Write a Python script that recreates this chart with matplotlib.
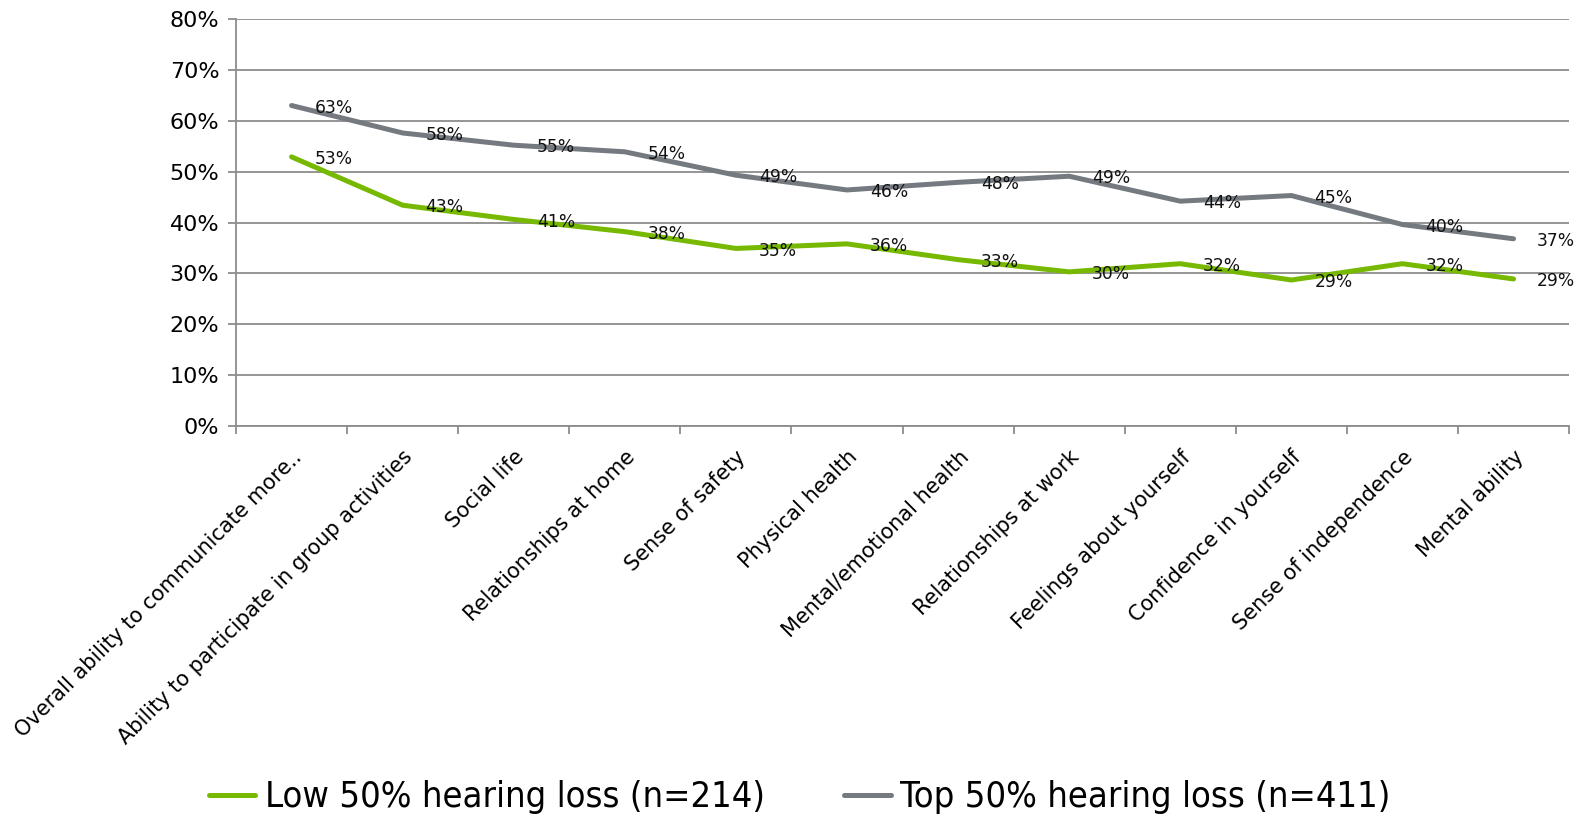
import numpy as np
import matplotlib
matplotlib.use("Agg")
import matplotlib.pyplot as plt
from matplotlib.ticker import FixedLocator, PercentFormatter

categories = ["Overall ability to communicate more..",
              "Ability to participate in group activities",
              "Social life", "Relationships at home", "Sense of safety",
              "Physical health", "Mental/emotional health",
              "Relationships at work", "Feelings about yourself",
              "Confidence in yourself", "Sense of independence",
              "Mental ability"]
low = [52.9, 43.4, 40.6, 38.2, 34.9, 35.8, 32.7, 30.3, 31.9, 28.7, 31.9, 28.9]
top = [63.0, 57.6, 55.2, 53.9, 49.3, 46.4, 47.9, 49.1, 44.2, 45.3, 39.6, 36.8]
low_name = "Low 50% hearing loss (n=214)"
top_name = "Top 50% hearing loss (n=411)"

green = "#76b900"
grey = "#747a80"
axcol = "#8c8c8c"

plt.rcParams['font.family'] = ['DejaVu Sans']

fig = plt.figure(figsize=(15.83, 8.17), dpi=100)
ax = fig.add_axes([0.1491, 0.4786, 0.9912 - 0.1491, 0.9767 - 0.4786])

x = np.arange(len(categories))
ax.plot(x, low, color=green, lw=3.6, solid_capstyle='round', label=low_name, zorder=3)
ax.plot(x, top, color=grey, lw=3.6, solid_capstyle='round', label=top_name, zorder=3)

# data labels to the right of each point
for series in (low, top):
    for xi, v in zip(x, series):
        ax.annotate("%.0f%%" % v, (xi, v), xytext=(16.5, -1.5), textcoords='offset points',
                    ha='left', va='center', fontsize=12.3, color='#111111', zorder=4)

ax.set_xlim(-0.5, len(categories) - 0.5)
ax.set_ylim(0, 80)
ax.set_yticks(np.arange(0, 81, 10))
ax.yaxis.set_major_formatter(PercentFormatter(decimals=0))
ax.grid(axis='y', color=axcol, lw=1.3)
ax.set_axisbelow(True)

ax.set_xticks(x)
ax.set_xticklabels(categories, rotation=45, ha='right', va='top',
                   rotation_mode='anchor', fontsize=15.0)
ax.xaxis.set_minor_locator(FixedLocator(np.arange(-0.5, len(categories), 1.0)))
ax.tick_params(axis='x', which='major', length=0, pad=15)
ax.tick_params(axis='x', which='minor', length=6, color=axcol, width=1.3)
ax.tick_params(axis='y', length=6, color=axcol, width=1.3, labelsize=16, pad=6)

for s in ['top', 'right']:
    ax.spines[s].set_visible(False)
for s in ['left', 'bottom']:
    ax.spines[s].set_color(axcol)
    ax.spines[s].set_linewidth(1.3)

fig.legend(loc='center', bbox_to_anchor=(0.505, 0.024), ncol=2, frameon=False,
           prop={'size': 26, 'stretch': 'condensed'}, handlelength=1.3,
           handletextpad=0.25, columnspacing=2.2)

fig.savefig("out.png", dpi=100)
